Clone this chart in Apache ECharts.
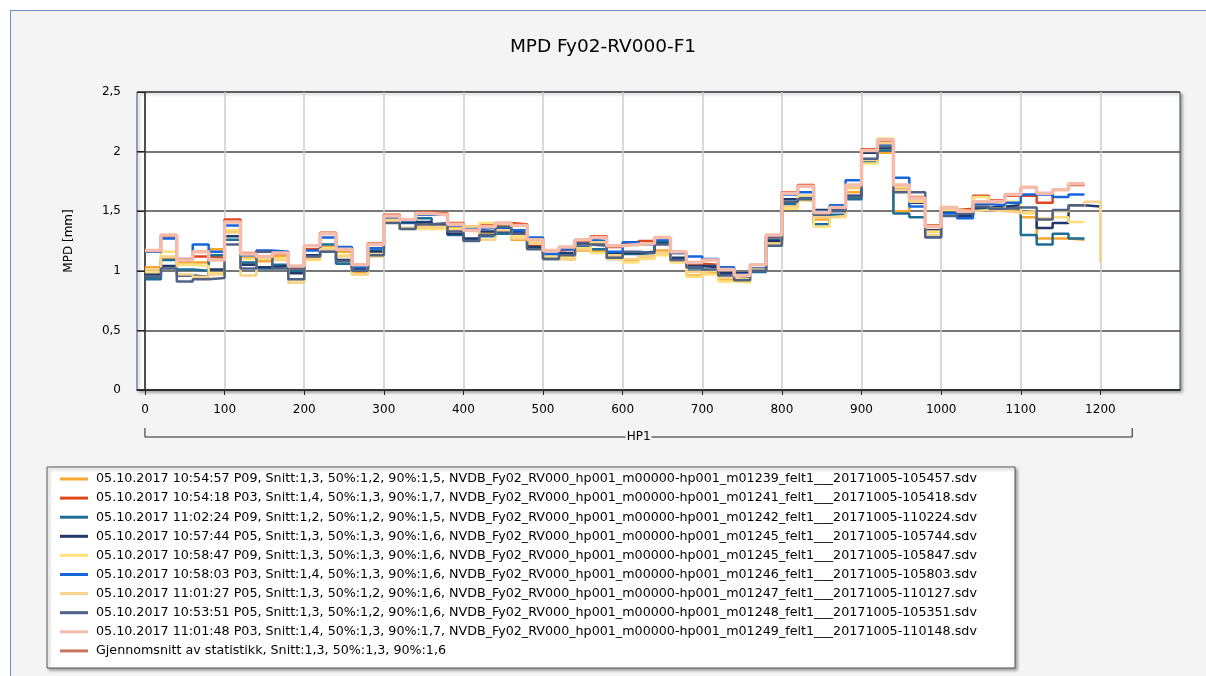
<!DOCTYPE html>
<html><head><meta charset="utf-8">
<script src="https://cdn.jsdelivr.net/npm/echarts@6/dist/echarts.min.js"></script>
<style>
html,body{margin:0;padding:0;background:#fff;overflow:hidden;}
#frame{position:absolute;left:10px;top:10px;width:1300px;height:800px;background:#f4f4f4;border-left:1px solid #6f8fb8;border-top:1px solid #6f8fb8;}
#c{position:absolute;left:0;top:0;width:1206px;height:676px;}
</style>
</head><body><div id="frame"></div><div id="c"></div>
<script>
// ---- data ----
const hpStart = [0,20,40,60,80,100,120,140,160,180,200,220,240,260,280,300,320,340,360,380,400,420,440,460,480,500,520,540,560,580,600,620,640,660,680,700,720,740,760,780,800,820,840,860,880,900,920,940,960,980,1000,1020,1040,1060,1080,1100,1120,1140,1160,1180];
const stepWidth = 20;
const xTickValues = [0,100,200,300,400,500,600,700,800,900,1000,1100,1200];

const seriesNames = [
  '05.10.2017 10:54:57 P09, Snitt:1,3, 50%:1,2, 90%:1,5, NVDB_Fy02_RV000_hp001_m00000-hp001_m01239_felt1___20171005-105457.sdv',
  '05.10.2017 10:54:18 P03, Snitt:1,4, 50%:1,3, 90%:1,7, NVDB_Fy02_RV000_hp001_m00000-hp001_m01241_felt1___20171005-105418.sdv',
  '05.10.2017 11:02:24 P09, Snitt:1,2, 50%:1,2, 90%:1,5, NVDB_Fy02_RV000_hp001_m00000-hp001_m01242_felt1___20171005-110224.sdv',
  '05.10.2017 10:57:44 P05, Snitt:1,3, 50%:1,3, 90%:1,6, NVDB_Fy02_RV000_hp001_m00000-hp001_m01245_felt1___20171005-105744.sdv',
  '05.10.2017 10:58:47 P09, Snitt:1,3, 50%:1,3, 90%:1,6, NVDB_Fy02_RV000_hp001_m00000-hp001_m01245_felt1___20171005-105847.sdv',
  '05.10.2017 10:58:03 P03, Snitt:1,4, 50%:1,3, 90%:1,6, NVDB_Fy02_RV000_hp001_m00000-hp001_m01246_felt1___20171005-105803.sdv',
  '05.10.2017 11:01:27 P05, Snitt:1,3, 50%:1,2, 90%:1,6, NVDB_Fy02_RV000_hp001_m00000-hp001_m01247_felt1___20171005-110127.sdv',
  '05.10.2017 10:53:51 P05, Snitt:1,3, 50%:1,2, 90%:1,6, NVDB_Fy02_RV000_hp001_m00000-hp001_m01248_felt1___20171005-105351.sdv',
  '05.10.2017 11:01:48 P03, Snitt:1,4, 50%:1,3, 90%:1,7, NVDB_Fy02_RV000_hp001_m00000-hp001_m01249_felt1___20171005-110148.sdv',
  'Gjennomsnitt av statistikk, Snitt:1,3, 50%:1,3, 90%:1,6'
];

const orangeP09a = [1.03,1.10,1.07,1.07,1.18,1.33,1.11,1.08,1.12,1.01, 1.11,1.20,1.16,0.99,1.15,1.41,1.36,1.38,1.38,1.36, 1.34,1.31,1.38,1.26,1.24,1.14,1.10,1.17,1.16,1.12, 1.09,1.12,1.17,1.08,0.96,0.98,0.92,0.92,1.02,1.24, 1.55,1.62,1.43,1.46,1.66,1.93,1.99,1.50,1.57,1.33, 1.50,1.49,1.52,1.51,1.51,1.45,1.27,1.27,1.26];
const redP03a = [1.16,1.29,1.10,1.12,1.11,1.43,1.15,1.10,1.14,1.02, 1.18,1.32,1.18,1.04,1.23,1.47,1.43,1.49,1.48,1.40, 1.37,1.39,1.40,1.39,1.21,1.17,1.18,1.25,1.29,1.20, 1.23,1.25,1.27,1.15,1.06,1.05,1.01,0.98,1.01,1.28, 1.66,1.72,1.50,1.52,1.70,2.02,2.08,1.69,1.62,1.38, 1.51,1.52,1.63,1.59,1.63,1.63,1.57,1.68,1.72];
const tealP09b = [0.93,1.09,1.01,1.00,1.13,1.26,1.07,1.02,1.05,1.00, 1.13,1.22,1.06,1.02,1.17,1.42,1.40,1.44,1.39,1.30, 1.26,1.29,1.31,1.30,1.19,1.10,1.13,1.20,1.18,1.10, 1.14,1.15,1.24,1.10,1.02,1.04,0.97,0.95,0.99,1.26, 1.56,1.61,1.39,1.47,1.60,1.91,2.01,1.48,1.45,1.29, 1.49,1.47,1.52,1.53,1.52,1.30,1.22,1.31,1.27];
const navyP05a = [0.97,1.04,0.96,0.95,1.01,1.29,1.05,1.03,1.04,0.98, 1.13,1.18,1.09,1.02,1.16,1.44,1.41,1.41,1.38,1.31, 1.27,1.33,1.33,1.32,1.20,1.11,1.15,1.23,1.22,1.15, 1.15,1.16,1.23,1.11,1.04,1.03,0.98,0.98,1.00,1.25, 1.60,1.59,1.51,1.51,1.63,1.99,2.03,1.68,1.57,1.34, 1.49,1.46,1.53,1.54,1.55,1.49,1.36,1.40,1.55,1.54];
const yellowP09c = [0.99,1.16,1.05,1.04,0.98,1.34,1.10,1.10,1.11,0.92, 1.09,1.19,1.13,0.97,1.14,1.43,1.35,1.35,1.35,1.35, 1.37,1.40,1.39,1.29,1.24,1.12,1.11,1.19,1.15,1.10, 1.07,1.10,1.13,1.07,0.95,0.97,0.91,0.90,1.00,1.22, 1.52,1.59,1.37,1.45,1.71,1.90,2.11,1.70,1.59,1.33, 1.51,1.50,1.62,1.52,1.58,1.48,1.43,1.45,1.41];
const blueP03b = [1.16,1.27,1.09,1.22,1.16,1.38,1.13,1.17,1.16,1.03, 1.17,1.28,1.20,1.03,1.19,1.45,1.42,1.47,1.47,1.38, 1.35,1.36,1.36,1.34,1.28,1.14,1.18,1.26,1.25,1.16, 1.24,1.22,1.26,1.15,1.12,1.10,1.03,0.97,1.02,1.29, 1.64,1.66,1.50,1.55,1.76,2.01,2.06,1.78,1.54,1.37, 1.48,1.44,1.56,1.55,1.57,1.64,1.64,1.62,1.64];
const tanP05b = [1.01,1.12,0.97,0.95,0.97,1.32,0.96,1.11,1.09,0.90, 1.10,1.18,1.12,0.97,1.12,1.42,1.36,1.37,1.37,1.34, 1.33,1.26,1.34,1.27,1.23,1.10,1.09,1.18,1.24,1.13, 1.10,1.12,1.15,1.08,0.99,1.00,0.94,0.93,1.01,1.23, 1.54,1.63,1.45,1.46,1.69,1.93,2.07,1.68,1.58,1.30, 1.52,1.50,1.51,1.50,1.49,1.50,1.44,1.50,1.55,1.58];
const tanEndValue = 1.07;
const slateP05c = [0.95,1.02,0.91,0.93,0.94,1.22,1.02,1.16,1.02,0.93, 1.12,1.16,1.08,1.00,1.13,1.40,1.35,1.39,1.40,1.33, 1.25,1.30,1.37,1.31,1.18,1.10,1.13,1.22,1.21,1.11, 1.16,1.15,1.22,1.09,1.03,1.01,0.96,0.92,1.00,1.21, 1.58,1.60,1.47,1.50,1.62,1.94,2.04,1.66,1.66,1.28, 1.46,1.48,1.54,1.52,1.53,1.53,1.43,1.51,1.55];
const pinkP03c = [1.17,1.30,1.09,1.16,1.09,1.41,1.14,1.12,1.15,1.04, 1.21,1.31,1.18,1.05,1.22,1.46,1.43,1.48,1.47,1.39, 1.34,1.37,1.40,1.38,1.26,1.17,1.20,1.26,1.28,1.21, 1.22,1.23,1.28,1.16,1.07,1.09,1.01,0.96,1.05,1.30, 1.65,1.71,1.49,1.53,1.72,2.01,2.10,1.72,1.61,1.37, 1.53,1.50,1.58,1.58,1.64,1.70,1.65,1.68,1.73];
const averageSeries = []; // hidden beneath the other lines in the reference

const colors = ['#F8A730','#E0461C','#1D6E97','#1F3A6A','#FFE07A','#1565DB','#F7D288','#4E6286','#F5BCAC','#C9735A'];
const widths = [2.5,2.5,2.5,2.5,2.5,2.5,2.5,2.5,3.5,2.5];
const valueSets = [orangeP09a, redP03a, tealP09b, navyP05a, yellowP09c, blueP03b, tanP05b, slateP05c, pinkP03c, averageSeries];

function stepData(vals, endDrop) {
  if (!vals.length) return [];
  const d = vals.map((v, i) => [hpStart[i], v]);
  const last = vals.length - 1;
  d.push([hpStart[last] + stepWidth, vals[last]]);
  if (endDrop !== undefined) d.push([hpStart[last] + stepWidth, endDrop]);
  return d;
}

const FONT = 'DejaVu Sans';
const chart = echarts.init(document.getElementById('c'), null, {renderer: 'canvas'});
const series = valueSets.map((vals, i) => ({
  name: seriesNames[i], type: 'line', step: 'end', symbol: 'none', showSymbol: false,
  data: stepData(vals, vals === tanP05b ? tanEndValue : undefined),
  lineStyle: {color: colors[i], width: widths[i]},
  itemStyle: {color: colors[i]},
  emphasis: {disabled: true},
  animation: false
}));

chart.setOption({
  backgroundColor: 'transparent',
  animation: false,
  title: {text: 'MPD Fy02-RV000-F1', left: 'center', top: 33,
    textStyle: {fontFamily: FONT, fontSize: 18.5, fontWeight: 'normal', color: '#000'}},
  grid: {left: 137, top: 92, width: 1043, height: 298, show: true, backgroundColor: '#fff',
    borderColor: '#3c4a60', borderWidth: 1, shadowColor: 'rgba(0,0,0,0.35)', shadowBlur: 3, shadowOffsetX: 2, shadowOffsetY: 2},
  legend: {orient: 'vertical', left: 60, top: 472, padding: 0, itemWidth: 28, itemHeight: 3, itemGap: 5.1,
    icon: 'rect', selectedMode: false, data: seriesNames,
    textStyle: {fontFamily: FONT, fontSize: 12.7, lineHeight: 14, color: '#000', padding: [0, 0, 0, 3]}},
  xAxis: {type: 'value', min: -10, max: 1300,
    axisLine: {show: true, onZero: false, lineStyle: {color: '#222', width: 1.5}},
    axisTick: {show: true, customValues: xTickValues, length: 5, lineStyle: {color: '#222'}},
    axisLabel: {customValues: xTickValues, margin: 14, color: '#000', fontFamily: FONT, fontSize: 12,
      formatter: v => String(v)},
    splitLine: {show: true, lineStyle: {color: '#cccccc', width: 1.5}}},
  yAxis: {type: 'value', min: 0, max: 2.5, interval: 0.5,
    name: 'MPD [mm]', nameLocation: 'middle', nameGap: 62, nameRotate: 90,
    nameTextStyle: {fontFamily: FONT, fontSize: 12, color: '#000'},
    axisLine: {show: true, lineStyle: {color: '#222', width: 1.5}},
    axisTick: {show: true, length: 8, lineStyle: {color: '#222'}},
    axisLabel: {margin: 16, color: '#000', fontFamily: FONT, fontSize: 12,
      formatter: v => String(v).replace('.', ',')},
    splitLine: {show: true, lineStyle: {color: '#4a4a4a', width: 1.5}}},
  series: series
});

// decorations: legend box, axis-title bracket
const x0 = chart.convertToPixel({xAxisIndex: 0}, 0);
const x1 = chart.convertToPixel({xAxisIndex: 0}, 1240);
const by = 437;
chart.setOption({graphic: [
  {type: 'rect', z: 1, shape: {x: 47, y: 467, width: 968, height: 201},
    style: {fill: '#fff', stroke: '#555', lineWidth: 1, shadowColor: 'rgba(0,0,0,0.35)', shadowBlur: 3, shadowOffsetX: 2, shadowOffsetY: 2}},
  {type: 'polyline', z: 1, shape: {points: [[x0, by - 9], [x0, by], [x1, by], [x1, by - 9]]},
    style: {stroke: '#222', lineWidth: 1, fill: null}},
  {type: 'text', z: 2, x: (x0 + x1) / 2, y: by,
    style: {text: 'HP1', fontFamily: FONT, fontSize: 12, fill: '#000', align: 'center', verticalAlign: 'middle',
      backgroundColor: '#f4f4f4', padding: [0, 1]}}
]});
</script>
</body></html>
